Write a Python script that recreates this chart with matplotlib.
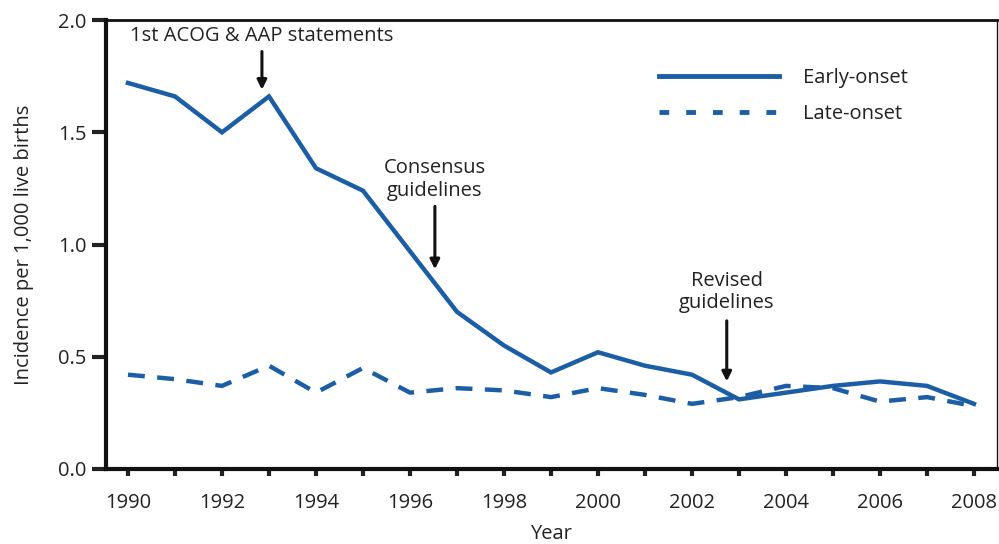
import matplotlib
matplotlib.use('Agg')
import matplotlib.pyplot as plt
from matplotlib.lines import Line2D

# Data
years = list(range(1990, 2009))
early_onset = [1.72, 1.66, 1.50, 1.66, 1.34, 1.24, 0.97, 0.70, 0.55, 0.43,
               0.52, 0.46, 0.42, 0.31, 0.34, 0.37, 0.39, 0.37, 0.29]
late_onset = [0.42, 0.40, 0.37, 0.46, 0.34, 0.45, 0.34, 0.36, 0.35, 0.32,
              0.36, 0.33, 0.29, 0.32, 0.37, 0.36, 0.30, 0.32, 0.28]

# annotations: (text, x in years, text y, arrow start y, arrow end y)
events = [("1st ACOG & AAP statements", 1992.85, 1.93, 1.86, 1.69),
          ("Consensus\nguidelines", 1996.53, 1.29, 1.17, 0.89),
          ("Revised\nguidelines", 2002.74, 0.79, 0.66, 0.39)]

blue = '#1b5ea6'
plt.rcParams['font.family'] = ['Open Sans', 'DejaVu Sans']

fig = plt.figure(figsize=(9.99, 5.44), dpi=100)
ax = fig.add_axes([0.106, 0.138, 0.892, 0.825])

ax.plot(years, early_onset, color=blue, lw=3.2, solid_joinstyle='miter')
ax.plot(years, late_onset, color=blue, lw=3.2, dashes=(3.8, 2.8))

ax.set_xlim(1989.53, 2008.49)
ax.set_ylim(0, 2.0)
ax.set_xticks(range(1990, 2009, 2))
ax.set_xticks(range(1991, 2009, 2), minor=True)
ax.set_yticks([0, 0.5, 1.0, 1.5, 2.0])
ax.set_yticklabels(['0.0', '0.5', '1.0', '1.5', '2.0'])
ax.tick_params(axis='x', which='both', length=5, width=3, direction='out',
               labelsize=14.5, colors='#222222', pad=12)
ax.tick_params(axis='y', length=10, width=3, direction='out',
               labelsize=14.5, colors='#222222', pad=4)

for s in ['left', 'bottom']:
    ax.spines[s].set_linewidth(3)
ax.spines['top'].set_linewidth(2)
ax.spines['right'].set_linewidth(1)
for s in ax.spines.values():
    s.set_color('#111111')

ax.set_xlabel('Year', fontsize=14.5, color='#222222', labelpad=8)
ax.set_ylabel('Incidence per 1,000 live births', fontsize=14.5, color='#222222', labelpad=17)

for text, x, ty, y0, y1 in events:
    ax.text(x, ty, text, ha='center', va='center', fontsize=14.5,
            color='#222222', linespacing=1.15)
    ax.annotate('', xy=(x, y1), xytext=(x, y0),
                arrowprops=dict(arrowstyle='-|>', color='#111111', lw=2.2,
                                mutation_scale=14, shrinkA=0, shrinkB=0))

handles = [Line2D([], [], color=blue, lw=3.5),
           Line2D([], [], color=blue, lw=3.5, dashes=(2, 3.5))]
ax.legend(handles, ['Early-onset', 'Late-onset'], loc='upper left',
          bbox_to_anchor=(0.609, 0.915), frameon=False, fontsize=14.5,
          borderpad=0, handlelength=6, handletextpad=1.15, labelspacing=0.8,
          labelcolor='#222222')

fig.savefig('out.png', dpi=100)
